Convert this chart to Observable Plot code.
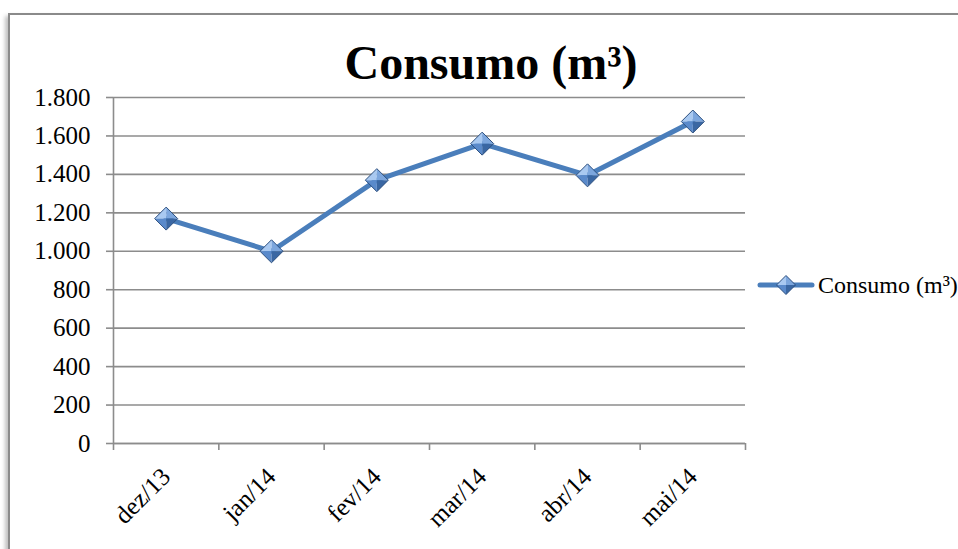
<!DOCTYPE html>
<html><head><meta charset="utf-8">
<script src="https://cdn.jsdelivr.net/npm/d3@7"></script>
<script src="https://cdn.jsdelivr.net/npm/@observablehq/plot@0.6"></script>
<style>
html,body{margin:0;padding:0;background:#fff;}
#wrap{position:relative;width:958px;height:549px;overflow:hidden;}
#frame{position:absolute;left:8px;top:13px;width:1000px;height:600px;border:2px solid #8a8a8a;box-shadow:-3px 3px 4px rgba(0,0,0,0.25);pointer-events:none;}
#chart{position:absolute;left:0;top:0;}
</style></head>
<body>
<div id="wrap"><div id="chart"></div><div id="frame"></div></div>
<script>
const months = ["dez/13","jan/14","fev/14","mar/14","abr/14","mai/14"];
const consumo = [1170, 1000, 1370, 1560, 1395, 1675];
const yTicks = [0,200,400,600,800,1000,1200,1400,1600,1800];
const title = ["Consumo (m³)"];
const seriesName = "Consumo (m³)";

const data = months.map((m,i)=>({i, month:m, value:consumo[i]}));
const fmt = d3.formatLocale({decimal:",", thousands:".", grouping:[3], currency:["",""]}).format(",");
const font = "'Liberation Serif','Times New Roman',serif";
const lineColor = "#4a7ebb";
const gridColor = "#8c8c8c";

function facet(points){
  return {draw(ctx,size){
    const h = Math.sqrt(size/Math.PI);
    ctx.moveTo(0,0);
    points.forEach(([a,b])=>ctx.lineTo(a*h,b*h));
    ctx.closePath();
  }};
}
const fTL = facet([[-1,0],[0,-1]]);
const fTR = facet([[0,-1],[1,0]]);
const fBL = facet([[-1,0],[0,1]]);
const fBR = facet([[1,0],[0,1]]);
const outline = {draw(ctx,size){const h=Math.sqrt(size/Math.PI);ctx.moveTo(-h,0);ctx.lineTo(0,-h);ctx.lineTo(h,0);ctx.lineTo(0,h);ctx.closePath();}};

const R = 11.5;
const bounds = d3.range(months.length+1).map(i=>i-0.5);

const plot = Plot.plot({
  width:958, height:549,
  marginLeft:113, marginRight:213, marginTop:97, marginBottom:106,
  style:{background:"transparent", fontFamily:font},
  x:{domain:[-0.5, months.length-0.5], axis:null},
  y:{domain:[0,1800], axis:null},
  marks:[
    Plot.gridY(yTicks, {stroke:gridColor, strokeOpacity:1, strokeWidth:1.6}),
    Plot.axisY(yTicks, {tickSize:7, tickPadding:16, tickFormat:fmt, fontSize:25, stroke:gridColor, strokeWidth:1.6, strokeOpacity:1, fill:"#000", label:null}),
    Plot.axisX(bounds, {tickSize:7, tickFormat:()=>"", stroke:gridColor, strokeWidth:1.6, strokeOpacity:1, label:null}),
    Plot.ruleX([-0.5], {stroke:gridColor, strokeWidth:1.6}),
    Plot.ruleY([0], {stroke:gridColor, strokeWidth:1.6}),
    Plot.text(data, {x:"i", y:()=>0, text:"month", rotate:-45, textAnchor:"end", lineAnchor:"middle", dy:29, fontSize:25, fill:"#000"}),
    Plot.line(data, {x:"i", y:"value", stroke:lineColor, strokeWidth:5, strokeLinejoin:"round"}),
    Plot.dot(data, {x:"i", y:"value", r:R, symbol:fTL, fill:"#a9c9f1", stroke:null}),
    Plot.dot(data, {x:"i", y:"value", r:R, symbol:fTR, fill:"#7ca6dd", stroke:null}),
    Plot.dot(data, {x:"i", y:"value", r:R, symbol:fBL, fill:"#5a8acb", stroke:null}),
    Plot.dot(data, {x:"i", y:"value", r:R, symbol:fBR, fill:"#3a67a3", stroke:null}),
    Plot.dot(data, {x:"i", y:"value", r:R, symbol:outline, fill:"none", stroke:"#2c4f7f", strokeWidth:1})
  ]
});
document.getElementById("chart").appendChild(plot);

const svg = d3.select(plot);
svg.append("text").attr("x",491).attr("y",79).attr("text-anchor","middle")
  .style("font-family",font).style("font-weight","bold").style("font-size","48px").attr("fill","#000")
  .text(title[0]);

const lg = svg.append("g");
lg.append("line").attr("x1",760).attr("x2",812).attr("y1",285).attr("y2",285)
  .attr("stroke",lineColor).attr("stroke-width",5).attr("stroke-linecap","round");
const lh = 9.5, cx = 786, cy = 285;
[[[-1,0],[0,-1],"#a9c9f1"],[[0,-1],[1,0],"#7ca6dd"],[[-1,0],[0,1],"#5a8acb"],[[1,0],[0,1],"#3a67a3"]].forEach(([a,b,c])=>{
  lg.append("path").attr("d",`M${cx},${cy}L${cx+a[0]*lh},${cy+a[1]*lh}L${cx+b[0]*lh},${cy+b[1]*lh}Z`).attr("fill",c);
});
lg.append("path").attr("d",`M${cx-lh},${cy}L${cx},${cy-lh}L${cx+lh},${cy}L${cx},${cy+lh}Z`).attr("fill","none").attr("stroke","#2c4f7f");
lg.append("text").attr("x",818).attr("y",293).attr("text-anchor","start").style("font-family",font).style("font-size","24px").attr("fill","#000").text(seriesName);
</script>
</body></html>
